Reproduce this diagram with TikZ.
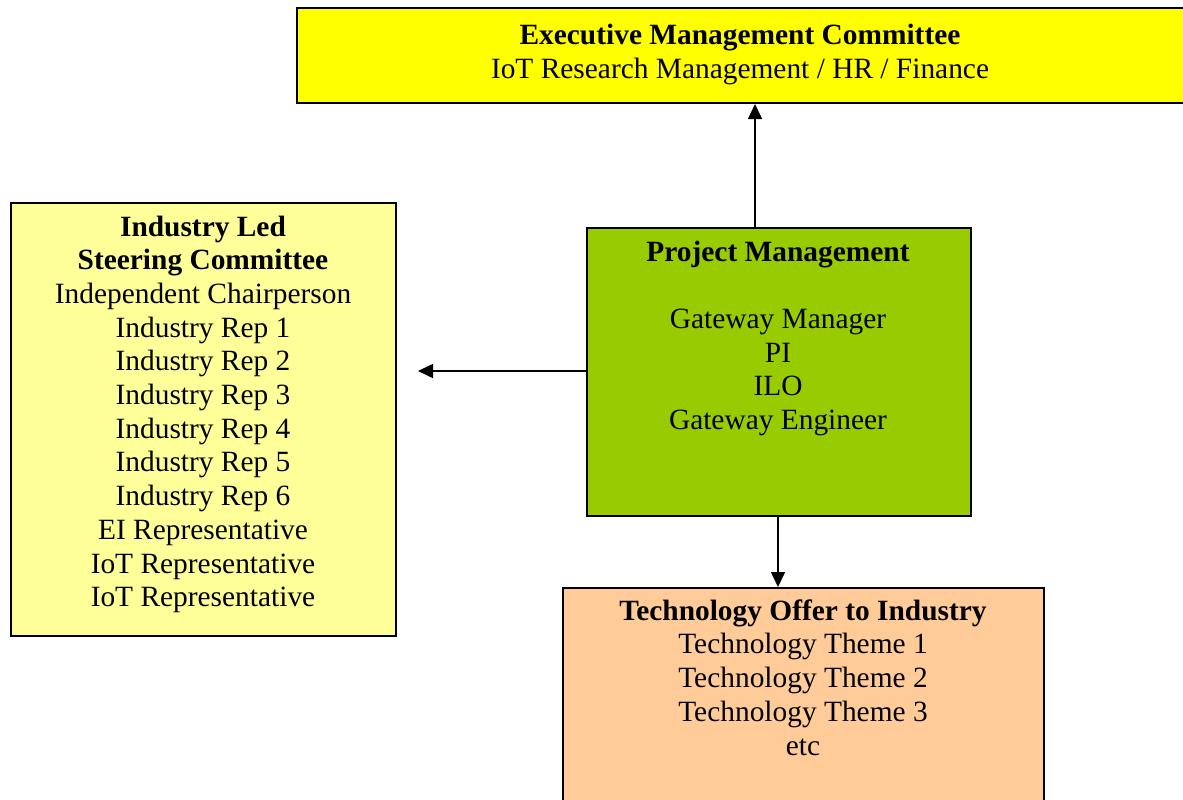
\documentclass[tikz,border=0pt]{standalone}
\usepackage{fontspec}
\setmainfont{Liberation Serif}
\usetikzlibrary{arrows.meta}
\definecolor{execyellow}{HTML}{FFFF00}
\definecolor{steerfill}{HTML}{FFFF99}
\definecolor{pmgreen}{HTML}{99CC00}
\definecolor{techfill}{HTML}{FFCC99}
\tikzset{
  box/.style={draw=black, line width=2pt, inner sep=0pt, anchor=north west},
  txt/.style={align=center, inner sep=0pt, anchor=base, font=\fontsize{29.4}{33.7}\selectfont},
  conn/.style={line width=1.6pt, -{Triangle[length=15pt,width=14pt]}}
}
\begin{document}
\begin{tikzpicture}[x=1pt,y=-1pt]
\clip (0,0) rectangle (1183,800);
\node[box, fill=execyellow, minimum width=900pt, minimum height=95pt] (exec) at (296,7) {};
\node[box, fill=steerfill, minimum width=385pt, minimum height=433pt] (steer) at (10,202) {};
\node[box, fill=pmgreen, minimum width=384pt, minimum height=288pt] (pm) at (586,227) {};
\node[box, fill=techfill, minimum width=481pt, minimum height=260pt] (tech) at (562,587) {};

% anchor=base sits on the baseline of the last line
\node[txt] (exectxt) at (740,78) {\textbf{Executive Management Committee}\\IoT Research Management / HR / Finance};
\node[txt] (steertxt) at (203,606.7) {\textbf{Industry Led}\\\textbf{Steering Committee}\\Independent Chairperson\\Industry Rep 1\\Industry Rep 2\\Industry Rep 3\\Industry Rep 4\\Industry Rep 5\\Industry Rep 6\\EI Representative\\IoT Representative\\IoT Representative};
\node[txt] (pmtxt) at (778,429.5) {\textbf{Project Management}\\[33.7pt]Gateway Manager\\PI\\ILO\\Gateway Engineer};
\node[txt] (techtxt) at (803,755) {\textbf{Technology Offer to Industry}\\Technology Theme 1\\Technology Theme 2\\Technology Theme 3\\etc};

\coordinate (leftend) at (418,371);
\draw[conn] (pm.north west -| 755,0) -- (exec.south west -| 755,0);
\draw[conn] (pm.west |- leftend) -- (leftend);
\draw[conn] (pm.south west -| 778,0) -- (tech.north west -| 778,0);
\end{tikzpicture}
\end{document}
